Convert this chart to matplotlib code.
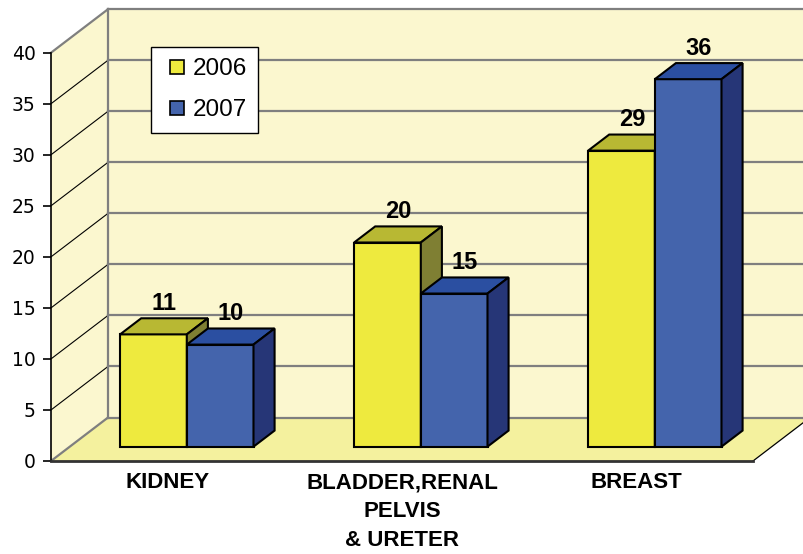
import matplotlib.pyplot as plt
from matplotlib.patches import Polygon, Patch, Rectangle
from matplotlib.legend_handler import HandlerPatch

plt.rcParams['font.family'] = ['Liberation Sans', 'DejaVu Sans']

categories = ['KIDNEY', 'BLADDER,RENAL\nPELVIS\n& URETER', 'BREAST']
years = ['2006', '2007']
vals_2006 = [11, 20, 29]
vals_2007 = [10, 15, 36]
yticks = [0, 5, 10, 15, 20, 25, 30, 35, 40]

# face colours: front, top, side
yellow = ['#EEEA3E', '#B8B833', '#7F7F33']
blue = ['#4464AC', '#2B4FA1', '#263677']
wall_c = '#FBF7CF'
floor_c = '#F4F19E'

# depth of the 3d box in data units
DX, DY = 0.2436, 4.26
d_front, d_back = 0.33, 0.70
bw = 0.285


def proj(x, v, d):
    return (x + d * DX, v + d * DY)


fig = plt.figure(figsize=(8.04, 5.54), dpi=100)
ax = fig.add_axes([51 / 804, 93 / 554, 702 / 804, 408.3 / 554])
ax.set_xlim(0, 3)
ax.set_ylim(0, 40)
ax.patch.set_visible(False)

# walls and floor
back = Polygon([proj(0, 0, 1), proj(3, 0, 1), proj(3, 40, 1), proj(0, 40, 1)],
               closed=True, fc=wall_c, ec='none', clip_on=False, zorder=0.1)
left = Polygon([proj(0, 0, 0), proj(0, 0, 1), proj(0, 40, 1), proj(0, 40, 0)],
               closed=True, fc=wall_c, ec='none', clip_on=False, zorder=0.1)
floor = Polygon([proj(0, 0, 0), proj(3, 0, 0), proj(3, 0, 1), proj(0, 0, 1)],
                closed=True, fc=floor_c, ec='none', clip_on=False, zorder=0.1)
for p in (back, left, floor):
    ax.add_patch(p)

grey = '#7F7F7F'
for v in yticks:
    a, b = proj(0, v, 1), proj(3, v, 1)
    ax.plot([a[0], b[0]], [a[1], b[1]], color=grey, lw=1.6, clip_on=False, zorder=0.2)
    if 0 < v < 40:
        a, b = proj(0, v, 0), proj(0, v, 1)
        ax.plot([a[0], b[0]], [a[1], b[1]], color='black', lw=0.8, clip_on=False, zorder=0.2)
for v in (0, 40):
    a, b = proj(0, v, 0), proj(0, v, 1)
    ax.plot([a[0], b[0]], [a[1], b[1]], color=grey, lw=1.6, clip_on=False, zorder=0.2)
a, b = proj(0, 0, 1), proj(0, 40, 1)
ax.plot([a[0], b[0]], [a[1], b[1]], color=grey, lw=1.6, clip_on=False, zorder=0.2)
a, b = proj(3, 0, 0), proj(3, 0, 1)
ax.plot([a[0], b[0]], [a[1], b[1]], color='black', lw=0.9, clip_on=False, zorder=0.2)


def bar3d(x0, v, cols):
    x1 = x0 + bw
    faces = [
        [proj(x0, 0, d_front), proj(x1, 0, d_front), proj(x1, v, d_front), proj(x0, v, d_front)],
        [proj(x0, v, d_front), proj(x1, v, d_front), proj(x1, v, d_back), proj(x0, v, d_back)],
        [proj(x1, 0, d_front), proj(x1, 0, d_back), proj(x1, v, d_back), proj(x1, v, d_front)],
    ]
    for f, c in zip(faces, cols):
        ax.add_patch(Polygon(f, closed=True, fc=c, ec='black', lw=1.5,
                             joinstyle='miter', clip_on=False, zorder=1))
    cx = x0 + bw / 2 + (d_front + d_back) / 2 * DX
    cy = v + d_back * DY
    ax.annotate(str(v), (cx, cy), xytext=(0, 10.5), textcoords='offset points',
                ha='center', va='center', fontsize=17, fontweight='bold',
                annotation_clip=False, zorder=3)


for i in range(len(categories)):
    c = i + 0.5
    bar3d(c - bw, vals_2006[i], yellow)
    bar3d(c, vals_2007[i], blue)

# axes styling
for s in ('top', 'right'):
    ax.spines[s].set_visible(False)
ax.spines['left'].set_color('black')
ax.spines['left'].set_linewidth(1.2)
ax.spines['bottom'].set_color('#333333')
ax.spines['bottom'].set_linewidth(2)
ax.set_yticks(yticks)
ax.set_yticklabels([str(t) for t in yticks], family='DejaVu Sans', fontsize=13.5)
ax.tick_params(axis='y', length=6, width=1.2, pad=5)
ax.set_xticks([0.5, 1.5, 2.5])
ax.set_xticklabels(categories, fontsize=16, fontweight='bold', linespacing=1.5)
ax.tick_params(axis='x', length=0, pad=8)


def square_handle(legend, orig_handle, xdescent, ydescent, width, height, fontsize):
    s = 10.1
    return Rectangle((-xdescent + width - s, -ydescent + (height - s) / 2), s, s)


handles = [Patch(fc=yellow[0], ec='black', lw=1.2), Patch(fc=blue[0], ec='black', lw=1.2)]
leg = ax.legend(handles, years, loc='upper left',
                bbox_to_anchor=(150.7 / 804, 1 - 46.7 / 554), bbox_transform=fig.transFigure,
                borderaxespad=0, fontsize=17.5, handlelength=0.9, handleheight=0.6,
                handletextpad=0.35, borderpad=0.47, labelspacing=0.78,
                handler_map={Patch: HandlerPatch(patch_func=square_handle)},
                fancybox=False, framealpha=1, edgecolor='black')
leg.get_frame().set_linewidth(1)
leg.set_zorder(4)

fig.savefig('out.png', dpi=100)
